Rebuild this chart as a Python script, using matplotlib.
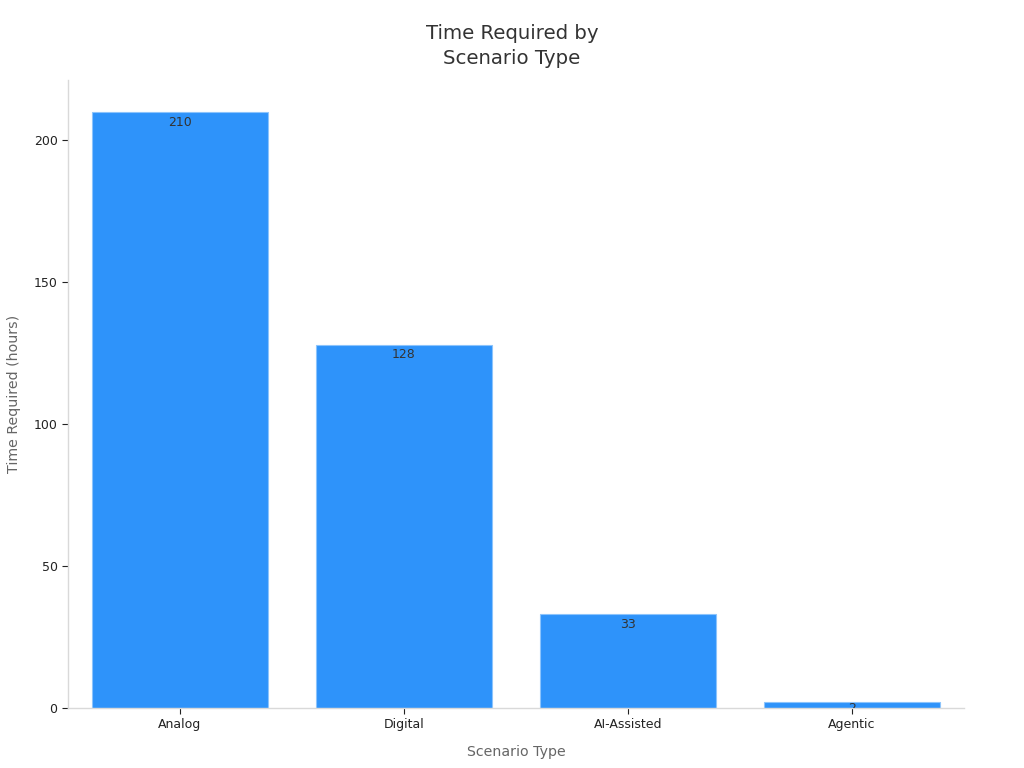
import matplotlib
matplotlib.use("Agg")
import matplotlib.pyplot as plt
import matplotlib.transforms as mtransforms

categories = ["Analog", "Digital", "AI-Assisted", "Agentic"]
hours = [210, 128, 33, 2]

fig = plt.figure(figsize=(10.24, 7.68), dpi=100)
ax = fig.add_axes([0.0664, 0.078, 0.875, 0.8178])

x = range(len(categories))
bars = ax.bar(x, hours, width=0.79, color="#2E93FA", edgecolor="#8CC4FC", linewidth=0.8)

for xi, v in zip(x, hours):
    off = -2.5 if v > 10 else 0.5
    ax.text(xi, v, str(v), ha="center", va="top", fontsize=9, color="#333333",
            clip_on=True,
            transform=ax.transData + mtransforms.ScaledTranslation(0, off / 72, fig.dpi_scale_trans))

ax.set_xlim(-0.5, 3.5)
ax.set_ylim(0, 221.3)
ax.set_xticks(list(x))
ax.set_xticklabels(categories)
ax.set_yticks([0, 50, 100, 150, 200])
ax.tick_params(axis="both", labelsize=9, colors="#222222", length=4, width=0.8)
ax.tick_params(axis="x", pad=3)
for s in ["top", "right"]:
    ax.spines[s].set_visible(False)
for s in ["left", "bottom"]:
    ax.spines[s].set_color("#d9d9d9")
    ax.spines[s].set_linewidth(1.0)

ax.set_xlabel("Scenario Type", fontsize=10.2, color="#666666", labelpad=10)
ax.set_ylabel("Time Required (hours)", fontsize=10.2, color="#666666", labelpad=9)
fig.text(0.5, 0.94, "Time Required by\nScenario Type", ha="center", va="center",
         fontsize=14.2, color="#333333", linespacing=1.35)

fig.savefig("out.png", dpi=100)
